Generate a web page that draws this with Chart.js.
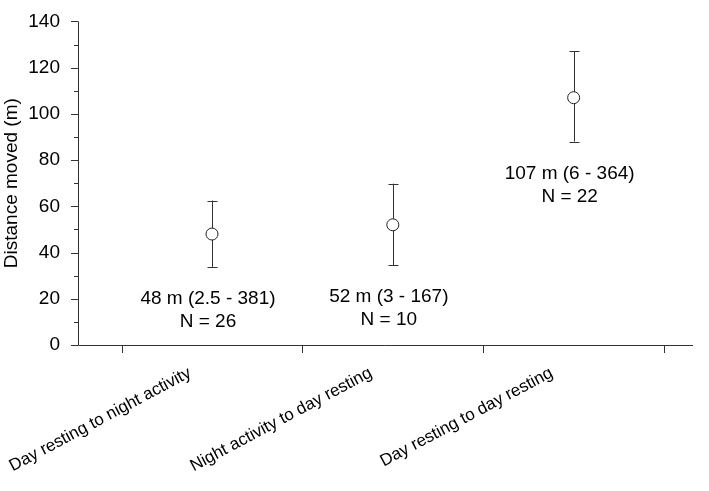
<!DOCTYPE html>
<html><head><meta charset="utf-8">
<script src="https://cdn.jsdelivr.net/npm/chart.js@4"></script>
<style>html,body{margin:0;padding:0;background:#fff}#w{width:709px;height:491px}</style>
</head><body><div id="w"><canvas id="c"></canvas></div>
<script>
const categories = ["Day resting to night activity", "Night activity to day resting", "Day resting to day resting"];
const means = [48, 52, 107];
const upper = [62.5, 69.8, 127];
const lower = [33.8, 34.6, 88];
const annotations = [["48 m (2.5 - 381)", "N = 26"], ["52 m (3 - 167)", "N = 10"], ["107 m (6 - 364)", "N = 22"]];
const yTicks = [0, 20, 40, 60, 80, 100, 120, 140];

const FAM = '"Liberation Sans", Arial, sans-serif';
const plug = {
  id: 'custom',
  afterDatasetsDraw(chart) {
    const {ctx, scales: {x, y}} = chart;
    ctx.save();
    ctx.strokeStyle = '#333'; ctx.lineWidth = 1;
    const x0 = x.left, yb = y.bottom;
    ctx.beginPath();
    ctx.moveTo(x0 + 0.5, y.top); ctx.lineTo(x0 + 0.5, yb + 0.5);
    ctx.lineTo(x.right, yb + 0.5); ctx.stroke();
    for (let v = 0; v <= 140; v += 10) {
      const py = Math.round(y.getPixelForValue(v)) + 0.5;
      const len = v % 20 === 0 ? 7 : 4;
      ctx.beginPath(); ctx.moveTo(x0 - len, py); ctx.lineTo(x0, py); ctx.stroke();
    }
    for (let i = 0; i <= categories.length; i++) {
      const px = Math.round(x.getPixelForValue(i + 0.5)) + 0.5;
      ctx.beginPath(); ctx.moveTo(px, yb); ctx.lineTo(px, yb + 8); ctx.stroke();
    }
    ctx.fillStyle = '#000';
    ctx.font = '17px ' + FAM;
    categories.forEach((c, i) => {
      const px = x.getPixelForValue(i + 1);
      ctx.save();
      ctx.translate(px - 22, yb + 27);
      ctx.rotate(-28 * Math.PI / 180);
      ctx.textAlign = 'right'; ctx.textBaseline = 'middle';
      ctx.fillText(c, 0, 0);
      ctx.restore();
    });
    ctx.font = '19px ' + FAM;
    ctx.textAlign = 'center'; ctx.textBaseline = 'middle';
    annotations.forEach((a, i) => {
      const px = x.getPixelForValue(i + 1) - 4;
      const py = y.getPixelForValue(lower[i]) + 32;
      ctx.fillText(a[0], px, py);
      ctx.fillText(a[1], px, py + 23);
    });
    ctx.save();
    ctx.translate(12, (y.top + y.bottom) / 2);
    ctx.rotate(-Math.PI / 2);
    ctx.fillText('Distance moved (m)', 0, 0);
    ctx.restore();
    ctx.restore();
  },
  beforeDatasetsDraw(chart) {
    const {ctx, scales: {x, y}} = chart;
    ctx.save(); ctx.strokeStyle = '#333'; ctx.lineWidth = 1;
    means.forEach((m, i) => {
      const px = Math.round(x.getPixelForValue(i + 1)) + 0.5;
      const pt = y.getPixelForValue(upper[i]), pb = y.getPixelForValue(lower[i]);
      ctx.beginPath();
      ctx.moveTo(px, pt); ctx.lineTo(px, pb);
      ctx.moveTo(px - 5, Math.round(pt) + 0.5); ctx.lineTo(px + 5, Math.round(pt) + 0.5);
      ctx.moveTo(px - 5, Math.round(pb) + 0.5); ctx.lineTo(px + 5, Math.round(pb) + 0.5);
      ctx.stroke();
    });
    ctx.restore();
  }
};

new Chart(document.getElementById('c'), {
  type: 'scatter',
  data: { datasets: [{ data: means.map((m, i) => ({x: i + 1, y: m})),
    pointRadius: 6, pointHoverRadius: 6, pointBackgroundColor: '#fff', pointBorderColor: '#222', pointBorderWidth: 1 }] },
  options: {
    responsive: true, maintainAspectRatio: false, animation: false,
    layout: { padding: { top: -3, right: 16, left: 0, bottom: 0 } },
    plugins: { legend: { display: false }, tooltip: { enabled: false } },
    scales: {
      x: { type: 'linear', min: 0.259, max: 3.66, grid: { display: false }, border: { display: false },
           ticks: { display: false }, afterFit(s) { s.height = 146; } },
      y: { min: 0, max: 140, grid: { display: false }, border: { display: false },
           afterBuildTicks(s) { s.ticks = yTicks.map(v => ({value: v})); },
           ticks: { color: '#000', font: { family: FAM, size: 19 }, padding: 10 },
           afterFit(s) { s.width = 78; } }
    }
  },
  plugins: [plug]
});
</script></body></html>
